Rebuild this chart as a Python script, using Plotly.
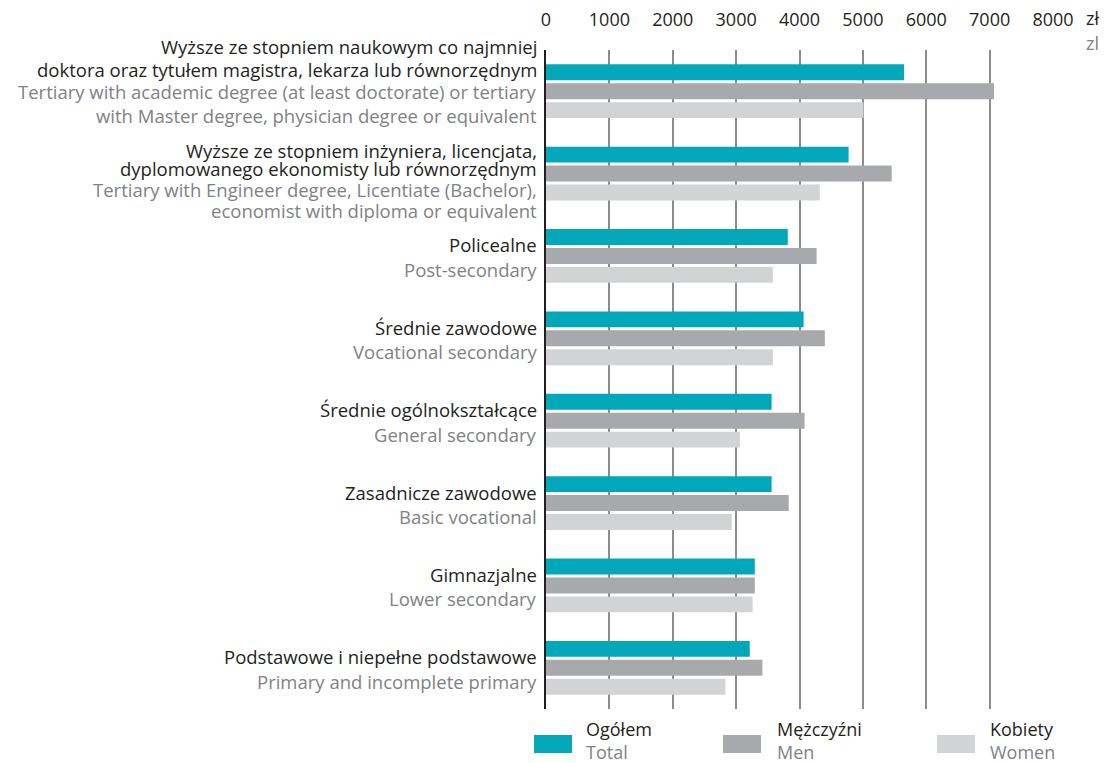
import plotly.graph_objects as go

# Average monthly gross wages by education level (PLN)
labels_pl = [
    ["Wyższe ze stopniem naukowym co najmniej",
     "doktora oraz tytułem magistra, lekarza lub równorzędnym"],
    ["Wyższe ze stopniem inżyniera, licencjata,",
     "dyplomowanego ekonomisty lub równorzędnym"],
    ["Policealne"],
    ["Średnie zawodowe"],
    ["Średnie ogólnokształcące"],
    ["Zasadnicze zawodowe"],
    ["Gimnazjalne"],
    ["Podstawowe i niepełne podstawowe"],
]
labels_en = [
    ["Tertiary with academic degree (at least doctorate) or tertiary",
     "with Master degree, physician degree or equivalent"],
    ["Tertiary with Engineer degree, Licentiate (Bachelor),",
     "economist with diploma or equivalent"],
    ["Post-secondary"],
    ["Vocational secondary"],
    ["General secondary"],
    ["Basic vocational"],
    ["Lower secondary"],
    ["Primary and incomplete primary"],
]
total = [5650, 4775, 3815, 4065, 3560, 3560, 3295, 3215]
men = [7070, 5455, 4270, 4400, 4080, 3830, 3295, 3415]
women = [5010, 4320, 3580, 3580, 3060, 2930, 3260, 2830]

series_names = [("Ogółem", "Total"), ("Mężczyźni", "Men"), ("Kobiety", "Women")]
x_ticks = [0, 1000, 2000, 3000, 4000, 5000, 6000, 7000, 8000]

TEAL = "#02a8ba"
MID_GREY = "#a8a9ad"
LIGHT_GREY = "#d2d3d5"
DARK = "#231f20"
SOFT = "#808285"
FONT = "Open Sans"

W, H = 1104, 763
L, R, T, B = 546, 1053, 50, 709

groups = list(range(len(total)))

fig = go.Figure()
for vals, col in zip([total, men, women], [TEAL, MID_GREY, LIGHT_GREY]):
    fig.add_trace(go.Bar(
        y=groups, x=vals, orientation="h",
        marker=dict(color=col, line=dict(width=0)),
        showlegend=False, hoverinfo="x",
    ))


def px_x(px):
    return (px - L) / (R - L)


def px_y(py):
    return (B - py) / (B - T)


annotations = []
# category labels, one annotation per line, shifted in pixels from the group centre
for i in groups:
    pl, en = labels_pl[i], labels_en[i]
    if i == 0:
        shifts = [-45.0, -22.0, 0.5, 24.0]
    elif i == 1:
        shifts = [-23.5, -5.0, 15.5, 36.5]
    else:
        shifts = [-11.0, 13.5]
    lines = [(t, DARK) for t in pl] + [(t, SOFT) for t in en]
    for (txt, col), s in zip(lines, shifts):
        annotations.append(dict(
            text=txt, xref="paper", yref="y", x=0, y=i,
            xanchor="right", yanchor="middle", xshift=-8, yshift=-s,
            showarrow=False, borderpad=0,
            font=dict(family=FONT, size=18.5, color=col),
        ))

# unit label
annotations.append(dict(text="zł", xref="paper", yref="paper", x=px_x(1085), y=px_y(18),
                        xanchor="left", yanchor="middle", showarrow=False, borderpad=0,
                        font=dict(family=FONT, size=18, color=DARK)))
annotations.append(dict(text="zl", xref="paper", yref="paper", x=px_x(1085), y=px_y(43),
                        xanchor="left", yanchor="middle", showarrow=False, borderpad=0,
                        font=dict(family=FONT, size=18, color=SOFT)))

# legend drawn below the plot
shapes = []
legend_pos = [(534, 585), (723, 776), (937, 989)]
for (sx, tx), (pl, en), col in zip(legend_pos, series_names, [TEAL, MID_GREY, LIGHT_GREY]):
    shapes.append(dict(type="rect", xref="paper", yref="paper",
                       x0=px_x(sx), x1=px_x(sx + 38), y0=px_y(735), y1=px_y(753),
                       fillcolor=col, line=dict(width=0)))
    annotations.append(dict(text=pl, xref="paper", yref="paper", x=px_x(tx), y=px_y(729),
                            xanchor="left", yanchor="middle", showarrow=False, borderpad=0,
                            font=dict(family=FONT, size=18, color=DARK)))
    annotations.append(dict(text=en, xref="paper", yref="paper", x=px_x(tx), y=px_y(751.5),
                            xanchor="left", yanchor="middle", showarrow=False, borderpad=0,
                            font=dict(family=FONT, size=18, color=SOFT)))

fig.update_layout(
    width=W, height=H,
    margin=dict(l=L, r=W - R, t=T, b=H - B, pad=0, autoexpand=False),
    paper_bgcolor="white", plot_bgcolor="white",
    barmode="group", bargap=0.31, bargroupgap=0.16,
    font=dict(family=FONT, size=18, color=DARK),
    xaxis=dict(
        range=[0, 8000], side="top", tickvals=x_ticks,
        ticktext=[str(v) for v in x_ticks],
        showgrid=True, gridcolor="#8c8c8c", gridwidth=1.5,
        zeroline=False, showline=False, ticks="",
        ticklabelstandoff=19, automargin=False,
        tickfont=dict(family=FONT, size=18, color=DARK),
        fixedrange=True,
    ),
    yaxis=dict(
        range=[7.5, -0.5], showticklabels=False, showgrid=False,
        zeroline=False, showline=True, linecolor=DARK, linewidth=1.5,
        ticks="", fixedrange=True, automargin=False,
    ),
    annotations=annotations,
    shapes=shapes,
)

fig.write_html("out.html")
